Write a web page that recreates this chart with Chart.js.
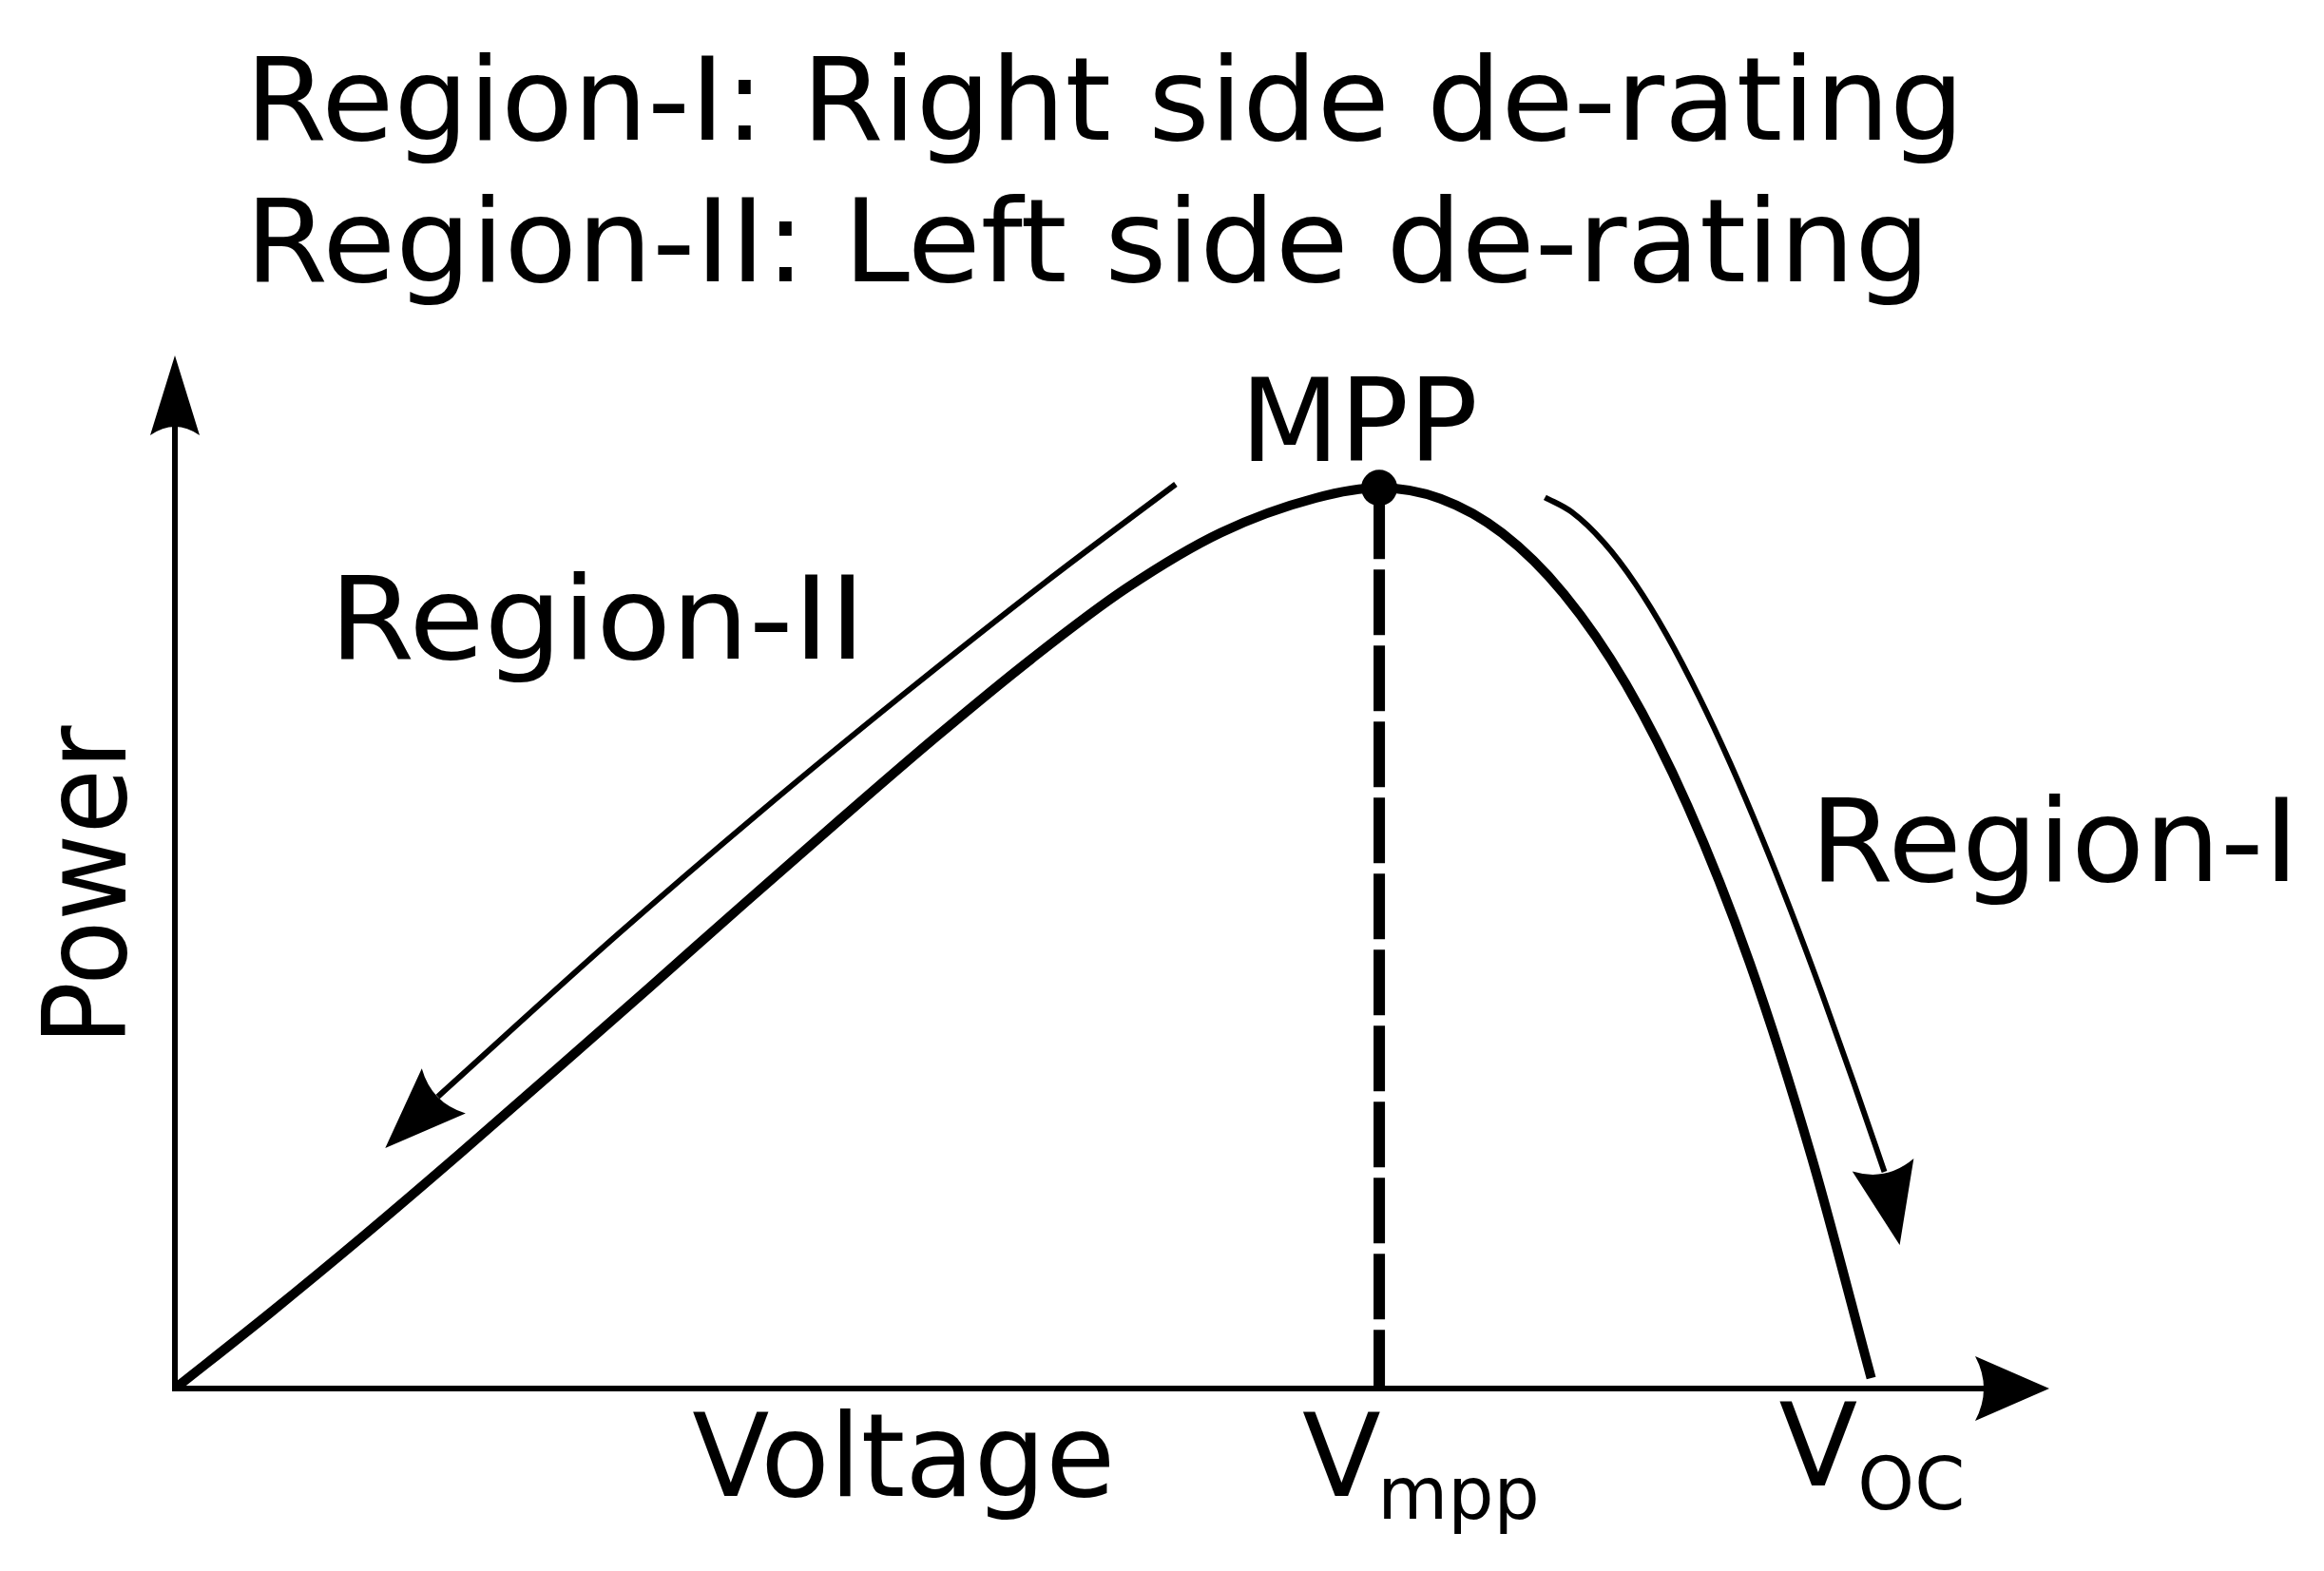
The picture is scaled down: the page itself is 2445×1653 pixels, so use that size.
<!DOCTYPE html>
<html>
<head>
<meta charset="utf-8">
<script src="https://cdn.jsdelivr.net/npm/chart.js@4.4.0/dist/chart.umd.min.js"></script>
<style>
    html, body { margin: 0; padding: 0; background: #fff; }
    canvas { display: block; }
</style>
</head>
<body>
<canvas id="pvChart" width="2445" height="1653"></canvas>
<script>
// P-V curve: voltage in % of Voc, power in % of Pmpp
const voltage = [0, 5.61, 11.21, 16.82, 22.42, 28.03, 33.63, 39.24, 44.84, 50.45, 56.05, 61.66, 67.26, 71.0,
    74.61, 78.25, 81.89, 85.54, 89.18, 92.83, 96.47, 100];
const power = [0, 8.39, 17.09, 26.11, 35.33, 44.62, 53.96, 63.22, 72.29, 80.94, 88.80, 95.02, 98.87, 100,
    98.79, 94.96, 88.20, 78.21, 64.69, 47.32, 25.82, 1.16];

const vmpp = 71.0;
const pmpp = 100;
const voc = 100;

// region arrows: shaft points, then the tip of the head
const regionTwoX = [59.0, 51.3, 42.9, 34.5, 26.1, 15.5];
const regionTwoY = [100.4, 89.5, 77.0, 64.0, 50.4, 32.4];
const regionTwoTip = [12.4, 26.7];
const regionOneX = [80.77, 82.34, 84.25, 86.10, 87.95, 89.85, 91.70, 93.55, 95.24, 97.09, 98.99, 100.78];
const regionOneY = [98.95, 97.32, 93.91, 89.34, 83.66, 76.82, 69.38, 61.19, 53.18, 43.89, 33.85, 24.06];
const regionOneTip = [101.68, 15.93];

const axisMaxX = 110.5;
const axisMaxY = 114.7;

const titleLines = [
    "Region-I: Right side de-rating",
    "Region-II: Left side de-rating"
];

const FONT = "'DejaVu Sans', Verdana, sans-serif";

function toPoints(xs, ys) {
    return xs.map((x, i) => ({ x: x, y: ys[i] }));
}

function drawHead(ctx, tipX, tipY, fromX, fromY, len, half, depth) {
    const dx = tipX - fromX;
    const dy = tipY - fromY;
    const d = Math.hypot(dx, dy);
    const ux = dx / d, uy = dy / d;
    const bx = tipX - ux * len, by = tipY - uy * len;
    const px = -uy, py = ux;
    ctx.beginPath();
    ctx.moveTo(tipX, tipY);
    ctx.lineTo(bx + px * half, by + py * half);
    ctx.quadraticCurveTo(bx + ux * depth * 2, by + uy * depth * 2,
        bx - px * half, by - py * half);
    ctx.closePath();
    ctx.fill();
}

const axesPlugin = {
    id: "axes",
    beforeDatasetsDraw(chart) {
        const ctx = chart.ctx;
        const xs = chart.scales.x, ys = chart.scales.y;
        const x0 = xs.getPixelForValue(0), y0 = ys.getPixelForValue(0);
        const xEnd = xs.getPixelForValue(axisMaxX);
        const yEnd = ys.getPixelForValue(axisMaxY);
        ctx.save();
        ctx.strokeStyle = "#000";
        ctx.fillStyle = "#000";
        ctx.lineWidth = 6;
        ctx.beginPath();
        ctx.moveTo(x0, y0 + 3);
        ctx.lineTo(x0, yEnd + 40);
        ctx.moveTo(x0 - 3, y0);
        ctx.lineTo(xEnd - 40, y0);
        ctx.stroke();
        drawHead(ctx, x0, yEnd, x0, y0, 84, 26, 9);
        drawHead(ctx, xEnd, y0, x0, y0, 78, 34, 9);
        ctx.restore();
    },
    afterDatasetsDraw(chart) {
        const ctx = chart.ctx;
        const xs = chart.scales.x, ys = chart.scales.y;
        ctx.save();
        ctx.fillStyle = "#000";
        [[3, regionTwoTip], [4, regionOneTip]].forEach(([i, tip]) => {
            const pts = chart.getDatasetMeta(i).data;
            const last = pts[pts.length - 1];
            drawHead(ctx, xs.getPixelForValue(tip[0]), ys.getPixelForValue(tip[1]),
                last.x, last.y, 86, 33, 9);
        });
        ctx.restore();
    }
};

// text labels placed in data units, sx = horizontal stretch
const labels = [
    { text: "MPP", x: 62.8, y: 103.0, size: 121, align: "left", sx: 1.0 },
    { text: "Region-II", x: 9.1, y: 81.0, size: 121, align: "left", sx: 1.066 },
    { text: "Region-I", x: 96.4, y: 56.3, size: 121, align: "left", sx: 1.042 },
    { text: "Voltage", x: 30.5, y: -11.9, size: 121, align: "left", sx: 0.98 },
    { text: "V", x: 71.1, y: -11.9, size: 121, align: "right", sx: 1.0 },
    { text: "mpp", x: 70.9, y: -14.5, size: 76, align: "left", sx: 1.0 },
    { text: "V", x: 99.2, y: -10.8, size: 121, align: "right", sx: 1.0 },
    { text: "OC", x: 99.2, y: -13.4, size: 76, align: "left", sx: 1.0 }
];

function stretchedText(ctx, text, x, y, sx) {
    ctx.save();
    ctx.translate(x, y);
    ctx.scale(sx, 1);
    ctx.fillText(text, 0, 0);
    ctx.restore();
}

const textPlugin = {
    id: "texts",
    afterDraw(chart) {
        const ctx = chart.ctx;
        const xs = chart.scales.x, ys = chart.scales.y;
        ctx.save();
        ctx.fillStyle = "#000";
        ctx.textBaseline = "alphabetic";

        ctx.font = "121px " + FONT;
        ctx.textAlign = "left";
        stretchedText(ctx, titleLines[0], 258, 147, 1.022);
        stretchedText(ctx, titleLines[1], 258, 296, 1.034);

        labels.forEach(l => {
            ctx.font = l.size + "px " + FONT;
            ctx.textAlign = l.align;
            stretchedText(ctx, l.text, xs.getPixelForValue(l.x), ys.getPixelForValue(l.y), l.sx);
        });

        // rotated y label
        ctx.font = "121px " + FONT;
        ctx.textAlign = "left";
        ctx.translate(xs.getPixelForValue(-2.9), ys.getPixelForValue(38.1));
        ctx.rotate(-Math.PI / 2);
        ctx.scale(0.92, 1);
        ctx.fillText("Power", 0, 0);
        ctx.restore();
    }
};

new Chart(document.getElementById("pvChart"), {
    type: "line",
    data: {
        datasets: [
            {
                label: "P-V curve",
                data: toPoints(voltage, power),
                borderColor: "#000",
                borderWidth: 10,
                pointRadius: 0,
                cubicInterpolationMode: "monotone"
            },
            {
                label: "MPP",
                data: [{ x: vmpp, y: pmpp }],
                showLine: false,
                pointRadius: 19,
                pointBackgroundColor: "#000",
                pointBorderWidth: 0
            },
            {
                label: "Vmpp",
                data: [{ x: vmpp, y: pmpp }, { x: vmpp, y: 0 }],
                borderColor: "#000",
                borderWidth: 12,
                borderDash: [69, 11],
                borderDashOffset: 74,
                pointRadius: 0
            },
            {
                label: "Region-II",
                data: toPoints(regionTwoX, regionTwoY),
                borderColor: "#000",
                borderWidth: 6,
                pointRadius: 0,
                cubicInterpolationMode: "monotone"
            },
            {
                label: "Region-I",
                data: toPoints(regionOneX, regionOneY),
                borderColor: "#000",
                borderWidth: 6,
                pointRadius: 0,
                cubicInterpolationMode: "monotone"
            }
        ]
    },
    options: {
        responsive: false,
        animation: false,
        layout: {
            padding: { left: 184, right: 289, top: 374, bottom: 192 }
        },
        scales: {
            x: { type: "linear", min: 0, max: axisMaxX, display: false },
            y: { type: "linear", min: 0, max: axisMaxY, display: false }
        },
        plugins: {
            legend: { display: false },
            tooltip: { enabled: false }
        }
    },
    plugins: [axesPlugin, textPlugin]
});
</script>
</body>
</html>
